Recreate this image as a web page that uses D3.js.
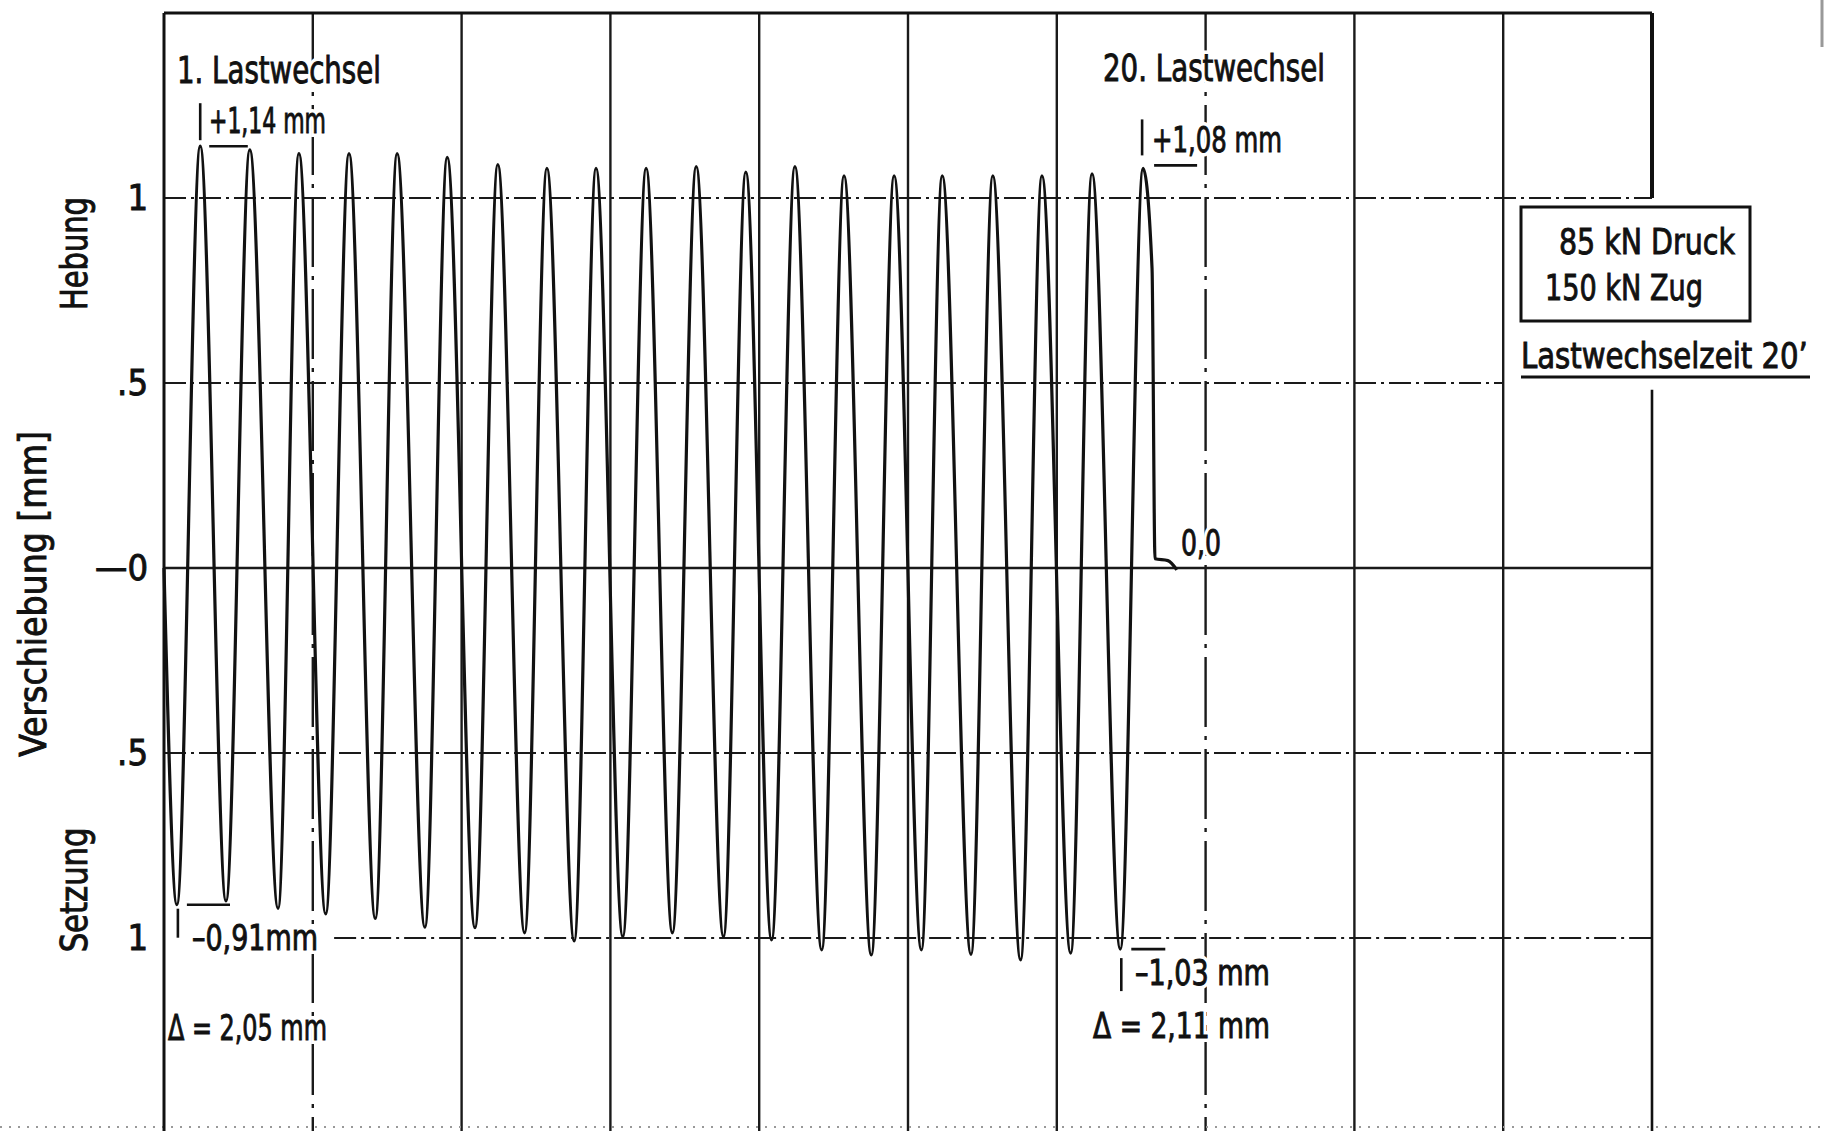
<!DOCTYPE html>
<html>
<head>
<meta charset="utf-8">
<script src="https://cdn.jsdelivr.net/npm/d3@7"></script>
<style>
html, body { margin: 0; padding: 0; background: #fff; }
svg { display: block; }
.lbl { font-family: "DejaVu Sans Condensed", "Liberation Sans Narrow", "DejaVu Sans", sans-serif; font-stretch: condensed; fill: #111; stroke: #111; stroke-width: 0.9; }
.halo { font-family: "DejaVu Sans Condensed", "Liberation Sans Narrow", "DejaVu Sans", sans-serif; font-stretch: condensed; fill: #fff; stroke: #fff; stroke-width: 8; }
</style>
</head>
<body>
<div id="chart"></div>
<script>
// cycle position (Lastwechsel) and displacement [mm] of every peak / trough
var peakCycle = [0.73, 1.73, 2.72, 3.73, 4.70, 5.71, 6.73, 7.72, 8.71, 9.72,
                 10.73, 11.73, 12.72, 13.71, 14.72, 15.69, 16.71, 17.70, 18.71, 19.74];
var peakValue = [1.14, 1.13, 1.12, 1.12, 1.12, 1.11, 1.09, 1.08, 1.08, 1.08,
                 1.085, 1.07, 1.085, 1.06, 1.06, 1.06, 1.06, 1.06, 1.065, 1.08];
var troughCycle = [0.26, 1.25, 2.30, 3.26, 4.26, 5.26, 6.27, 7.27, 8.27, 9.25,
                   10.25, 11.28, 12.25, 13.26, 14.26, 15.27, 16.27, 17.27, 18.28, 19.28];
var troughValue = [-0.91, -0.90, -0.92, -0.935, -0.947, -0.971, -0.972, -0.986, -1.008, -0.996,
                   -0.986, -0.996, -1.005, -1.032, -1.046, -1.032, -1.044, -1.059, -1.041, -1.03];
// unloading after the 20th cycle back to 0,0
var tailCycle = [19.92, 19.98, 20.24, 20.42];
var tailValue = [0.81, 0.025, 0.02, -0.005];

var yTickValues = [1, 0.5, 0, -0.5, -1];
var yTickLabels = ["1", ".5", "\u20140", ".5", "1"];
var gridCycles = [3, 6, 9, 12, 15, 18, 21, 24, 27];
var dashedGridCycles = [3, 21];

// squeeze a text horizontally to a given width (the lettering is very condensed)
function fitText(sel, rot){
  sel.each(function(d){
    var natural = this.getComputedTextLength() || d.len;
    var sx = d.len / natural;
    d3.select(this).attr("transform",
      "translate(" + d.x + "," + d.y + ")" + (rot ? " rotate(-90)" : "") + " scale(" + sx + ",1)");
  });
}

function drawChart(){
  var W = 1824, H = 1131;
  var svg = d3.select("#chart").append("svg")
      .attr("width", W)
      .attr("height", H);

  var x = d3.scaleLinear().domain([0, 30]).range([164, 1652]);
  var y = d3.scaleLinear().domain([-1.5, 1.5]).range([1123, 13]);

  var grid = svg.append("g").attr("stroke", "#1a1a1a").attr("fill", "none");

  // vertical grid lines, two of them dash-dotted
  grid.selectAll(".vg").data(gridCycles).enter().append("line")
      .attr("x1", function(d){ return x(d); })
      .attr("x2", function(d){ return x(d); })
      .attr("y1", y(1.5))
      .attr("y2", y(-1.54))
      .attr("stroke-width", 2.4)
      .attr("stroke-dasharray", function(d){ return dashedGridCycles.indexOf(d) >= 0 ? "70,9,4,9" : null; });

  // horizontal lines: dash-dot at +-0.5 / +-1, solid zero line
  var hLines = [
    {v: 1, from: 0, to: 30},
    {v: 0.5, from: 0, to: 27},
    {v: -0.5, from: 0, to: 30},
    {v: -1, from: 3.43, to: 30}
  ];
  grid.selectAll(".hg").data(hLines).enter().append("line")
      .attr("x1", function(d){ return x(d.from); })
      .attr("x2", function(d){ return x(d.to); })
      .attr("y1", function(d){ return y(d.v); })
      .attr("y2", function(d){ return y(d.v); })
      .attr("stroke-width", 2.2)
      .attr("stroke-dasharray", "22,5,3,5");
  grid.append("line")
      .attr("x1", x(0)).attr("x2", x(30))
      .attr("y1", y(0)).attr("y2", y(0))
      .attr("stroke-width", 2.4);

  // faint scan edge at the bottom and top right
  svg.append("line")
      .attr("x1", 0).attr("x2", W).attr("y1", 1127).attr("y2", 1127)
      .attr("stroke", "#999").attr("stroke-width", 2).attr("stroke-dasharray", "2,7");
  svg.append("line")
      .attr("x1", 1822).attr("x2", 1822).attr("y1", 0).attr("y2", 47)
      .attr("stroke", "#999").attr("stroke-width", 3);

  // y axis ticks
  var yAxis = d3.axisLeft(y)
      .tickValues(yTickValues)
      .tickSize(0)
      .tickPadding(16)
      .tickFormat(function(d, i){ return yTickLabels[i]; });
  var ax = svg.append("g").attr("transform", "translate(" + x(0) + ",0)").call(yAxis);
  ax.select(".domain").remove();
  ax.selectAll("text")
      .attr("class", "lbl")
      .attr("fill", "#111")
      .style("font-size", "36px");

  // axis titles
  var titles = [
    {t: "Hebung", x: 87, y: y(0.85), len: 113, fs: 37},
    {t: "Verschiebung [mm]", x: 46, y: y(-0.07), len: 326, fs: 37},
    {t: "Setzung", x: 87, y: y(-0.87), len: 125, fs: 37}
  ];
  svg.selectAll(".ttl").data(titles).enter().append("text")
      .attr("class", "lbl")
      .attr("text-anchor", "middle")
      .style("font-size", function(d){ return d.fs + "px"; })
      .text(function(d){ return d.t; })
      .call(fitText, true);

  // annotations (a white halo breaks the grid lines behind the lettering)
  var notes = [
    {t: "1. Lastwechsel", x: 177, y: 83, len: 204, fs: 38},
    {t: "+1,14 mm", x: 209, y: 133, len: 117, fs: 35},
    {t: "20. Lastwechsel", x: 1103, y: 81, len: 222, fs: 38},
    {t: "+1,08 mm", x: 1152, y: 152, len: 130, fs: 35},
    {t: "0,0", x: 1181, y: 555, len: 40, fs: 35},
    {t: "\u20130,91mm", x: 192, y: 950, len: 126, fs: 35},
    {t: "\u0394 = 2,05 mm", x: 168, y: 1040, len: 159, fs: 35},
    {t: "\u20131,03 mm", x: 1135, y: 985, len: 135, fs: 35},
    {t: "\u0394 = 2,11 mm", x: 1093, y: 1038, len: 177, fs: 35},
    {t: "85 kN Druck", x: 1559, y: 254, len: 176, fs: 36},
    {t: "150 kN Zug", x: 1545, y: 300, len: 158, fs: 36},
    {t: "Lastwechselzeit 20\u2019", x: 1521, y: 368, len: 287, fs: 36}
  ];
  ["halo", "lbl"].forEach(function(cls){
    svg.selectAll(".n-" + cls).data(notes).enter().append("text")
        .attr("class", cls)
        .style("font-size", function(d){ return d.fs + "px"; })
        .text(function(d){ return d.t; })
        .call(fitText, false);
  });

  // frame: left, top, right (right one broken by the load box)
  var frame = svg.append("g").attr("stroke", "#111").attr("fill", "none");
  frame.append("line").attr("x1", x(0)).attr("x2", x(0)).attr("y1", y(1.5)).attr("y2", y(-1.54)).attr("stroke-width", 3);
  frame.append("line").attr("x1", x(0)).attr("x2", x(30)).attr("y1", y(1.5)).attr("y2", y(1.5)).attr("stroke-width", 3);
  frame.append("line").attr("x1", x(30)).attr("x2", x(30)).attr("y1", y(1.5)).attr("y2", y(1)).attr("stroke-width", 4);
  frame.append("line").attr("x1", x(30)).attr("x2", x(30)).attr("y1", y(0.482)).attr("y2", y(-1.54)).attr("stroke-width", 2.6);

  // load box and underline
  svg.append("rect")
      .attr("x", 1521).attr("y", 207).attr("width", 229).attr("height", 114)
      .attr("fill", "none").attr("stroke", "#111").attr("stroke-width", 3);
  svg.append("line")
      .attr("x1", 1521).attr("x2", 1810).attr("y1", 377).attr("y2", 377)
      .attr("stroke", "#111").attr("stroke-width", 3.2);

  // the displacement record
  var pts = [[0, 0]];
  for (var i = 0; i < peakCycle.length; i++){
    pts.push([troughCycle[i], troughValue[i]]);
    pts.push([peakCycle[i], peakValue[i]]);
  }
  for (var j = 0; j < tailCycle.length; j++){
    pts.push([tailCycle[j], tailValue[j]]);
  }
  var line = d3.line()
      .x(function(d){ return x(d[0]); })
      .y(function(d){ return y(d[1]); })
      .curve(d3.curveMonotoneX);
  svg.append("path")
      .datum(pts)
      .attr("d", line)
      .attr("fill", "none")
      .attr("stroke", "#111")
      .attr("stroke-width", 3.2)
      .attr("stroke-linejoin", "round");

  // measuring marks at the 1st and 20th cycle
  var last = peakCycle.length - 1;
  var marks = [
    // +1,14
    [x(peakCycle[0]), y(peakValue[0]) - 43, x(peakCycle[0]), y(peakValue[0]) - 6],
    [x(peakCycle[0]) + 9, y(peakValue[0]), x(peakCycle[1]) - 2, y(peakValue[0])],
    // +1,08
    [x(peakCycle[last]) - 1, y(peakValue[last]) - 49, x(peakCycle[last]) - 1, y(peakValue[last]) - 13],
    [x(peakCycle[last]) + 11, y(peakValue[last]) - 3, x(peakCycle[last]) + 54, y(peakValue[last]) - 3],
    // -0,91
    [x(troughCycle[0]) + 10, y(troughValue[0]), x(troughCycle[1]) + 4, y(troughValue[0])],
    [x(troughCycle[0]) + 1, y(troughValue[0]) + 4, x(troughCycle[0]) + 1, y(troughValue[0]) + 33],
    // -1,03
    [x(troughCycle[last]) + 11, y(troughValue[last]), x(troughCycle[last]) + 45, y(troughValue[last])],
    [x(troughCycle[last]) + 1, y(troughValue[last]) + 9, x(troughCycle[last]) + 1, y(troughValue[last]) + 42]
  ];
  svg.selectAll(".mark").data(marks).enter().append("line")
      .attr("x1", function(d){ return d[0]; })
      .attr("y1", function(d){ return d[1]; })
      .attr("x2", function(d){ return d[2]; })
      .attr("y2", function(d){ return d[3]; })
      .attr("stroke", "#111")
      .attr("stroke-width", 2.6);
}

drawChart();
</script>
</body>
</html>
